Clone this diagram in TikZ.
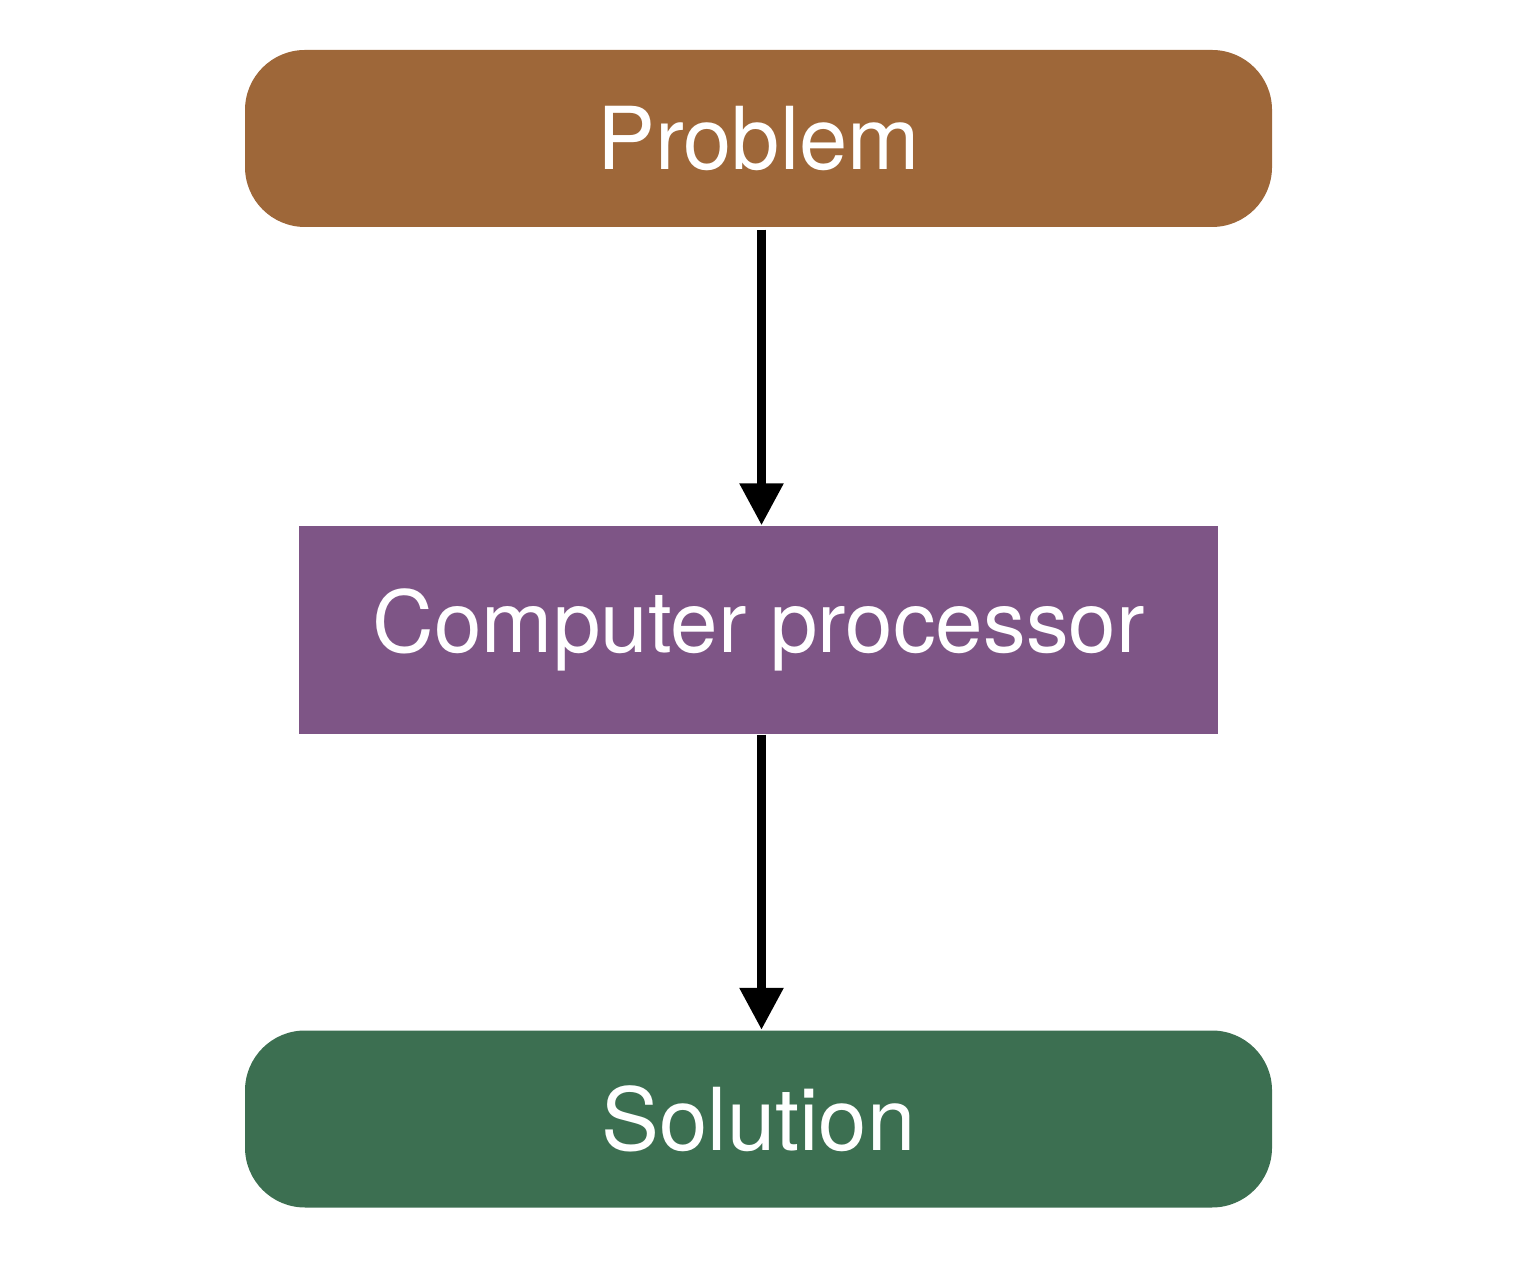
\documentclass[tikz,border=0pt]{standalone}
\usepackage{fontspec}
\setmainfont{TeX Gyre Heros}
\usetikzlibrary{arrows.meta,positioning}
\definecolor{problembrown}{HTML}{9E6739}
\definecolor{procpurple}{HTML}{7E5586}
\definecolor{solgreen}{HTML}{3C6F51}
\tikzset{
  endbox/.style={rectangle,rounded corners=0.6cm,minimum width=10.27cm,
    minimum height=1.77cm,inner sep=0pt,text=white,font=\fontsize{24.7}{28}\selectfont},
  procbox/.style={rectangle,minimum width=9.19cm,minimum height=2.08cm,
    inner sep=0pt,fill=procpurple,text=white,font=\fontsize{24.3}{28}\selectfont},
  flow/.style={line width=0.09cm,-{Triangle[length=4.2mm,width=4.2mm]}}
}
\begin{document}
\begin{tikzpicture}
  \useasboundingbox (0,0) rectangle (15.22,12.76);
  \node[endbox,fill=problembrown] (problem) at (7.585,11.375) {Problem};
  \node[procbox] (processor) at (7.585,6.46) {\raisebox{-0.05cm}{Computer processor}};
  \node[endbox,fill=solgreen] (solution) at (7.585,1.57) {Solution};
  \draw[flow] ([xshift=0.03cm,yshift=-0.02cm]problem.south) -- ([xshift=0.03cm]processor.north);
  \draw[flow] ([xshift=0.03cm]processor.south) -- ([xshift=0.03cm]solution.north);
\end{tikzpicture}
\end{document}
